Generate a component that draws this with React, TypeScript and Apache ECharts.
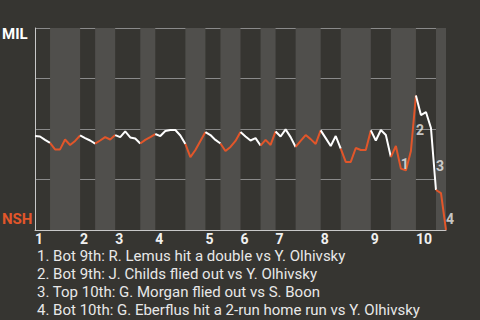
import React, { useEffect, useRef } from "react";
import * as echarts from "echarts";

// Plate appearances per half-inning (top 1, bot 1, top 2, ...)
const halfInningPAs = [3, 6, 3, 4, 5, 3, 6, 4, 3, 4, 4, 3, 4, 5, 4, 6, 4, 5, 4, 2];
const innings = ["1", "2", "3", "4", "5", "6", "7", "8", "9", "10"];

// MIL win probability after each event (0 = NSH wins, 1 = MIL wins)
const winProb = [
  0.465, 0.463, 0.446, 0.431, 0.399, 0.399, 0.448, 0.421, 0.441, 0.468,
  0.455, 0.443, 0.428, 0.443, 0.46, 0.448, 0.47, 0.46, 0.488, 0.458,
  0.453, 0.428, 0.446, 0.46, 0.475, 0.465, 0.49, 0.495, 0.495, 0.468,
  0.426, 0.361, 0.396, 0.441, 0.485, 0.47, 0.446, 0.428, 0.391, 0.411,
  0.441, 0.485, 0.463, 0.443, 0.455, 0.418, 0.446, 0.421, 0.488, 0.463,
  0.498, 0.46, 0.411, 0.441, 0.47, 0.45, 0.426, 0.493, 0.455, 0.416,
  0.465, 0.403, 0.337, 0.337, 0.406, 0.396, 0.396, 0.493, 0.443, 0.495,
  0.47, 0.361, 0.416, 0.304, 0.295, 0.391, 0.666, 0.569, 0.584, 0.505,
  0.198, 0.183, 0.0,
];

const eventIdx = [73, 76, 80, 82];
const eventLabels = ["1", "2", "3", "4"];
const notes = [
  "1. Bot 9th: R. Lemus hit a double vs Y. Olhivsky",
  "2. Bot 9th: J. Childs flied out vs Y. Olhivsky",
  "3. Top 10th: G. Morgan flied out vs S. Boon",
  "4. Bot 10th: G. Eberflus hit a 2-run home run vs Y. Olhivsky",
];

const BG = "#363531";
const STRIPE = "#504f4c";
const WHITE = "#ffffff";
const ORANGE = "#e2562a";
const FONT = "Roboto";

export default function App() {
  const ref = useRef<HTMLDivElement>(null);
  useEffect(() => {
    if (!ref.current) return;
    const chart = echarts.init(ref.current, null, { renderer: "svg" });

    const starts: number[] = [];
    let acc = 0;
    halfInningPAs.forEach((n) => {
      starts.push(acc);
      acc += n;
    });
    const total = acc;
    const inningStarts = starts.filter((_, i) => i % 2 === 0);

    const lineSeries = halfInningPAs.map((n, h) => {
      const s = starts[h];
      const data: number[][] = [];
      for (let k = s; k <= s + n; k++) data.push([k, winProb[k]]);
      return {
        type: "line",
        data,
        symbol: "none",
        z: 3,
        lineStyle: { color: h % 2 === 0 ? WHITE : ORANGE, width: 2 },
        silent: true,
      };
    });

    const stripeAreas = halfInningPAs
      .map((n, h) => ({ h, s: starts[h], e: starts[h] + n }))
      .filter((o) => o.h % 2 === 1)
      .map((o) => [{ xAxis: o.s }, { xAxis: o.e }]);

    const eventData = eventIdx.map((idx, i) => ({
      name: eventLabels[i],
      value: [idx, (winProb[idx - 1] + winProb[idx]) / 2],
    }));

    chart.setOption({
      animation: false,
      backgroundColor: BG,
      grid: { left: 35, right: 34, top: 28, bottom: 90 },
      xAxis: {
        type: "value",
        min: 0,
        max: total,
        z: 1,
        axisLine: { show: true, lineStyle: { color: "#c8c8c8", width: 1 } },
        axisTick: { show: false },
        splitLine: { show: false },
        axisLabel: {
          customValues: inningStarts,
          formatter: (v: number) => innings[inningStarts.indexOf(v)] ?? "",
          color: "#f0f0f0",
          fontFamily: FONT,
          fontWeight: "bold",
          fontSize: 14,
          align: "left",
          margin: 2,
        },
      },
      yAxis: {
        type: "value",
        min: 0,
        max: 1,
        interval: 0.25,
        z: 1,
        axisLine: { show: true, lineStyle: { color: "#c8c8c8", width: 1 } },
        axisTick: { show: false },
        axisLabel: { show: false },
        splitLine: { show: true, lineStyle: { color: "#8a8a8a", width: 1 } },
      },
      series: [
        {
          type: "line",
          data: [],
          z: 0,
          silent: true,
          markArea: {
            silent: true,
            itemStyle: { color: STRIPE },
            data: stripeAreas,
          },
        },
        ...lineSeries,
        {
          type: "scatter",
          data: eventData,
          symbolSize: 0,
          z: 4,
          silent: true,
          label: {
            show: true,
            formatter: "{b}",
            position: "inside",
            offset: [4, 7],
            color: "#eeeeee",
            fontFamily: FONT,
            fontWeight: "bold",
            fontSize: 14,
          },
        },
      ],
      graphic: [
        {
          type: "text",
          left: 2,
          top: 26,
          style: { text: "MIL", fill: "#ffffff", font: `bold 15px ${FONT}` },
        },
        {
          type: "text",
          left: 2,
          top: 211,
          style: { text: "NSH", fill: ORANGE, font: `bold 15px ${FONT}` },
        },
        ...notes.map((t, i) => ({
          type: "text",
          left: 37,
          top: 248 + i * 18,
          style: { text: t, fill: "#e8e8e8", font: `15px ${FONT}` },
        })),
      ],
    });
    return () => chart.dispose();
  }, []);
  return (
    <div
      ref={ref}
      style={{ position: "fixed", left: 0, top: 0, width: 480, height: 320 }}
    />
  );
}
